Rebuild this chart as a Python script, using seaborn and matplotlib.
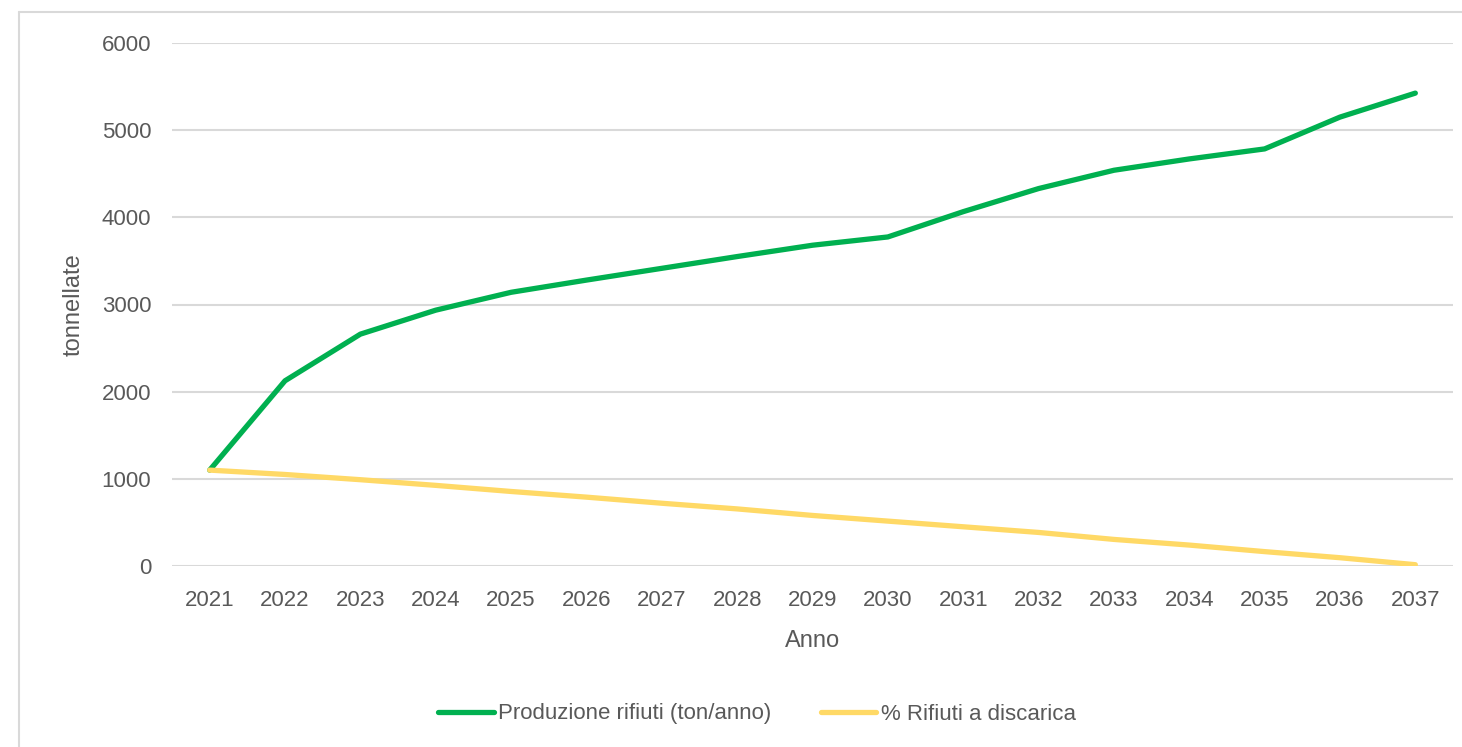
import numpy as np
import matplotlib.pyplot as plt
import seaborn as sns
import pandas as pd
from matplotlib.lines import Line2D

years = [str(y) for y in range(2021, 2038)]
produzione = [1100, 2125, 2660, 2935, 3140, 3280, 3415, 3550, 3680, 3775,
              4065, 4330, 4540, 4670, 4785, 5150, 5425]
discarica = [1100, 1050, 990, 925, 855, 790, 720, 655, 580, 515,
             450, 385, 305, 240, 165, 95, 15]

series_names = ['Produzione rifiuti (ton/anno)', '% Rifiuti a discarica']
series_colors = {series_names[0]: '#00B050', series_names[1]: '#FFD966'}

df = pd.DataFrame({
    'Anno': years * 2,
    'valore': produzione + discarica,
    'serie': [series_names[0]] * len(years) + [series_names[1]] * len(years),
})

sns.set_theme(style="white")
plt.rcParams['font.family'] = ['Liberation Sans', 'DejaVu Sans']
FONT_SIZE = 16
GREY = '#595959'

fig = plt.figure(figsize=(14.62, 7.47), dpi=100)
ax = fig.add_axes([172 / 1462, 1 - 566 / 747, (1453 - 172) / 1462, (566 - 43) / 747])

sns.lineplot(data=df, x='Anno', y='valore', hue='serie', palette=series_colors,
             linewidth=3.8, sort=False, ax=ax, legend=False,
             solid_capstyle='round', zorder=3)

ax.set_xlim(-0.5, len(years) - 0.5)
ax.set_ylim(0, 6000)
ax.set_yticks(np.arange(0, 6001, 1000))
ax.grid(axis='y', color='#D9D9D9', linewidth=1.5)
ax.set_axisbelow(True)
for s in ax.spines.values():
    s.set_visible(False)
ax.tick_params(axis='both', length=0, labelsize=FONT_SIZE, labelcolor=GREY)
ax.tick_params(axis='x', pad=17)
ax.tick_params(axis='y', pad=15)
ax.set_xlabel('Anno', fontsize=FONT_SIZE + 1, color=GREY, labelpad=14)
ax.set_ylabel('tonnellate', fontsize=FONT_SIZE + 1, color=GREY, labelpad=12)

# legend at the bottom, like the Excel chart
handles = [Line2D([0], [0], color=series_colors[n], linewidth=3.8, solid_capstyle='round')
           for n in series_names]
leg = fig.legend(handles, series_names, loc='center', bbox_to_anchor=(757 / 1462, 1 - 714 / 747),
                 ncol=2, frameon=False, fontsize=FONT_SIZE, handlelength=2.5,
                 handletextpad=0.2, columnspacing=2.2)
for t in leg.get_texts():
    t.set_color(GREY)

# outer chart frame (left and top edges visible)
fig.add_artist(Line2D([19 / 1462, 19 / 1462], [0, 1 - 12 / 747], color='#D9D9D9', linewidth=1.5,
                      transform=fig.transFigure))
fig.add_artist(Line2D([19 / 1462, 1], [1 - 12 / 747, 1 - 12 / 747], color='#D9D9D9', linewidth=1.5,
                      transform=fig.transFigure))

plt.savefig('out.png', dpi=100)
plt.close()
